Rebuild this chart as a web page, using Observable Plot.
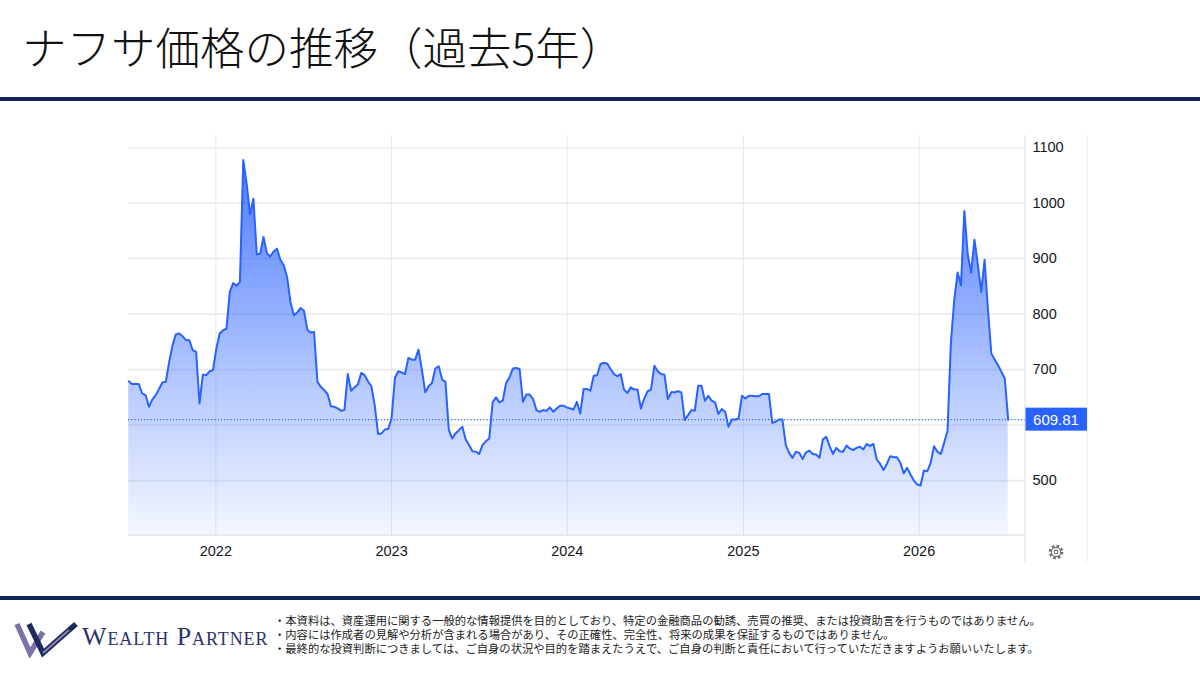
<!DOCTYPE html>
<html>
<head>
<meta charset="utf-8">
<script src="https://cdn.jsdelivr.net/npm/d3@7"></script>
<script src="https://cdn.jsdelivr.net/npm/@observablehq/plot@0.6"></script>
<style>
  html, body { margin: 0; padding: 0; background: #ffffff; }
  #page { position: relative; width: 1200px; height: 675px; overflow: hidden; background: #ffffff; font-family: "Noto Sans CJK JP", "Noto Sans", sans-serif; }
  #title { position: absolute; left: 22px; top: 19px; font-size: 44.5px; font-weight: 300; color: #111111; line-height: 1.2; white-space: nowrap; }
  .bar { position: absolute; left: 0; width: 1200px; background: #0f2557; }
  #chart { position: absolute; left: 0; top: 110px; }
  #logo { position: absolute; left: 13px; top: 620px; }
  #brand { position: absolute; left: 82px; top: 621px; font-family: "Liberation Serif", "DejaVu Serif", serif; font-size: 26px; color: #2b3468; font-variant: small-caps; letter-spacing: 0.9px; white-space: nowrap; line-height: 1.2; }
  #notes { position: absolute; left: 274px; top: 613px; font-size: 11.3px; line-height: 14px; color: #222222; white-space: nowrap; }
</style>
</head>
<body>
<div id="page">
  <div id="title">ナフサ価格の推移（過去5年）</div>
  <div class="bar" style="top:97px;height:4px;"></div>
  <div id="chart"></div>
  <div class="bar" style="top:596px;height:4px;"></div>
  <svg id="logo" width="70" height="38" viewBox="0 0 70 38">
    <polyline points="4,4 17,33 30,12" fill="none" stroke="#7c74a8" stroke-width="5.5" stroke-linejoin="miter"/>
    <polyline points="16,4 30,33 63,4" fill="none" stroke="#1f2a5c" stroke-width="5.5" stroke-linejoin="miter"/>
    <polyline points="30,33 56,10" fill="none" stroke="#8a82b4" stroke-width="2"/>
  </svg>
  <div id="brand">Wealth Partner</div>
  <div id="notes">
    <div>・本資料は、資産運用に関する一般的な情報提供を目的としており、特定の金融商品の勧誘、売買の推奨、または投資助言を行うものではありません。</div>
    <div>・内容には作成者の見解や分析が含まれる場合があり、その正確性、完全性、将来の成果を保証するものではありません。</div>
    <div>・最終的な投資判断につきましては、ご自身の状況や目的を踏まえたうえで、ご自身の判断と責任において行っていただきますようお願いいたします。</div>
  </div>
</div>
<script>
// ---- data (weekly naphtha price) ----
const firstWeek = "2021-07-04";
const weeklyPrice = [
  679, 674, 674, 674, 657, 654, 633, 646, 654, 665,
  677, 678, 714, 744, 764, 765, 760, 753, 753, 735,
  732, 639, 691, 690, 697, 699, 738, 765, 771, 774,
  840, 856, 851, 858, 1078, 1035, 980, 1008, 908, 909,
  939, 910, 904, 913, 918, 898, 888, 867, 822, 798,
  803, 811, 806, 772, 767, 768, 678, 669, 663, 656,
  634, 633, 630, 626, 627, 692, 662, 668, 673, 694,
  690, 679, 670, 636, 584, 585, 592, 593, 612, 685,
  697, 695, 692, 721, 718, 718, 736, 700, 659, 670,
  676, 702, 706, 682, 678, 591, 576, 585, 591, 597,
  574, 564, 553, 552, 548, 564, 571, 576, 641, 650,
  641, 644, 676, 686, 702, 703, 701, 642, 655, 655,
  647, 627, 624, 627, 626, 632, 624, 630, 635, 635,
  632, 630, 628, 642, 621, 665, 665, 662, 689, 690,
  710, 712, 711, 701, 692, 688, 692, 664, 658, 668,
  664, 664, 630, 648, 661, 664, 707, 697, 692, 691,
  647, 659, 659, 661, 659, 609, 618, 627, 626, 671,
  671, 644, 653, 644, 641, 620, 629, 624, 597, 610,
  610, 612, 653, 648, 653, 653, 652, 652, 656, 656,
  656, 604, 606, 610, 610, 564, 550, 541, 552, 550,
  539, 551, 554, 548, 547, 541, 574, 579, 562, 548,
  559, 553, 552, 563, 558, 555, 559, 561, 556, 566,
  562, 566, 538, 530, 519, 530, 544, 542, 542, 532,
  513, 523, 511, 500, 493, 491, 518, 517, 532, 562,
  552, 548, 568, 590, 748, 826, 875, 852, 986, 907,
  875, 934, 889, 840, 898, 808, 729, 718, 708, 696,
  684, 609.81
];
const lastPrice = 609.81;
const yearTicks = ["2022-01-01", "2023-01-01", "2024-01-01", "2025-01-01", "2026-01-01"];
const gridPrices = [500, 600, 700, 800, 900, 1000, 1100];
const labelPrices = [500, 700, 800, 900, 1000, 1100]; // 600 is hidden behind the price tag
const xDomain = ["2021-07-03T12:00:00Z", "2026-08-10T00:00:00Z"];
const yDomain = [401, 1122];

// ---- build table ----
const start = new Date(firstWeek);
const series = weeklyPrice.map((v, i) => ({ date: d3.utcDay.offset(start, 7 * i), price: v }));
const yearDates = yearTicks.map(s => new Date(s));

const blue = "#2962ff";
const frameColor = "#e0e3eb";

// gradient defs (uses the y scale for its extent)
const gradientDefs = (index, scales) => {
  const g = d3.create("svg:g");
  const lg = g.append("defs").append("linearGradient")
    .attr("id", "naphthaFill").attr("gradientUnits", "userSpaceOnUse")
    .attr("x1", 0).attr("x2", 0)
    .attr("y1", scales.y(1080)).attr("y2", scales.y(yDomain[0]));
  lg.append("stop").attr("offset", 0).attr("stop-color", blue).attr("stop-opacity", 0.85);
  lg.append("stop").attr("offset", 0.55).attr("stop-color", blue).attr("stop-opacity", 0.38);
  lg.append("stop").attr("offset", 1).attr("stop-color", blue).attr("stop-opacity", 0.05);
  return g.node();
};

// panel frame, price tag and settings icon
const panelChrome = (index, scales, values, dims) => {
  const { width, height, marginLeft, marginRight, marginTop, marginBottom } = dims;
  const xr = width - marginRight;
  const yb = height - marginBottom;
  const g = d3.create("svg:g");
  g.append("line").attr("x1", marginLeft).attr("x2", xr).attr("y1", yb).attr("y2", yb)
    .attr("stroke", frameColor).attr("stroke-width", 1.5);
  g.append("line").attr("x1", xr).attr("x2", xr).attr("y1", marginTop).attr("y2", yb + 27)
    .attr("stroke", frameColor).attr("stroke-width", 1.2);
  g.append("line").attr("x1", xr + 62).attr("x2", xr + 62).attr("y1", marginTop).attr("y2", yb + 27)
    .attr("stroke", "#eeeeee").attr("stroke-width", 1.2);
  const yp = scales.y(lastPrice);
  g.append("rect").attr("x", xr + 0.5).attr("y", yp - 11.5).attr("width", 61.5).attr("height", 23)
    .attr("fill", blue);
  g.append("text").attr("x", xr + 31).attr("y", yp).attr("dy", "0.36em")
    .attr("text-anchor", "middle").attr("fill", "#ffffff").attr("font-size", 15)
    .text(d3.format(".2f")(lastPrice));
  // gear icon
  const gear = g.append("g").attr("transform", `translate(${xr + 31},${yb + 17})`);
  gear.append("circle").attr("r", 6).attr("fill", "none").attr("stroke", "#6a6d78")
    .attr("stroke-width", 2.6).attr("stroke-dasharray", "2.4,2.3");
  gear.append("circle").attr("r", 4.6).attr("fill", "#ffffff").attr("stroke", "#6a6d78").attr("stroke-width", 1.1);
  gear.append("circle").attr("r", 1.9).attr("fill", "none").attr("stroke", "#6a6d78").attr("stroke-width", 1.1);
  return g.node();
};

const chart = Plot.plot({
  width: 1200,
  height: 460,
  marginLeft: 128,
  marginRight: 175,
  marginTop: 25,
  marginBottom: 35,
  x: { type: "utc", domain: xDomain.map(s => new Date(s)) },
  y: { domain: yDomain },
  style: { fontFamily: "'Liberation Sans', Arial, sans-serif", fontSize: "14.5px", color: "#131722", background: "transparent", overflow: "visible" },
  marks: [
    gradientDefs,
    Plot.gridY(gridPrices, { stroke: "#ececec", strokeOpacity: 1, strokeWidth: 1.6 }),
    Plot.gridX(yearDates, { stroke: "#e3eaf4", strokeOpacity: 1, strokeWidth: 1 }),
    Plot.areaY(series, { x: "date", y1: yDomain[0], y2: "price", fill: "url(#naphthaFill)", curve: "linear" }),
    Plot.lineY(series, { x: "date", y: "price", stroke: blue, strokeWidth: 2, curve: "linear" }),
    Plot.ruleY([lastPrice], { stroke: blue, strokeWidth: 1.2, strokeDasharray: "1.2,2" }),
    Plot.axisY(labelPrices, { anchor: "right", tickSize: 0, tickPadding: 7, label: null, tickFormat: d3.format("d"), fill: "#131722", fontSize: 14.5 }),
    Plot.axisX(yearDates, { anchor: "bottom", tickSize: 0, tickPadding: 10, label: null, tickFormat: d3.utcFormat("%Y"), fill: "#131722", fontSize: 14.5 }),
    panelChrome
  ]
});
document.getElementById("chart").appendChild(chart);
</script>
</body>
</html>
